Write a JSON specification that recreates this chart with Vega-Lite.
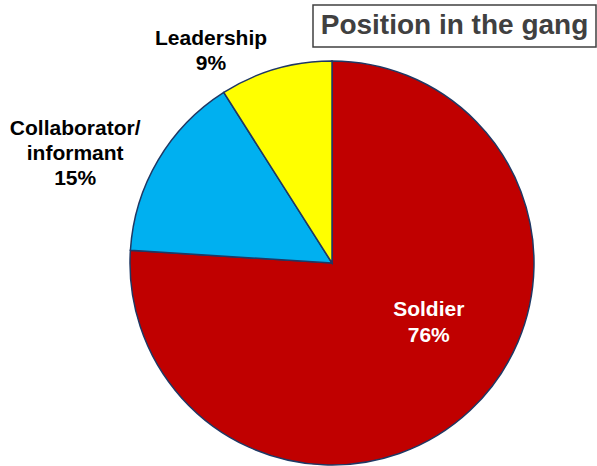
{
  "$schema": "https://vega.github.io/schema/vega-lite/v6.json",
  "padding": {"left": 9, "top": 4, "right": 0, "bottom": 0},
  "background": "white",
  "spacing": 14,
  "bounds": "flush",
  "config": {"font": "Liberation Sans", "view": {"stroke": null}},
  "datasets": {
    "slices": [
      {"category": "Soldier", "value": 76, "order": 1},
      {"category": "Collaborator/\ninformant", "value": 15, "order": 2},
      {"category": "Leadership", "value": 9, "order": 3}
    ],
    "heading": [{"text": "Position in the gang"}]
  },
  "vconcat": [
    {
      "width": 283,
      "height": 42,
      "view": {"stroke": "#404040", "strokeWidth": 1.5, "fill": "white"},
      "data": {"name": "heading"},
      "mark": {"type": "text", "font": "Liberation Sans", "fontWeight": "bold", "fontSize": 28, "color": "#404040", "baseline": "middle", "align": "center"},
      "encoding": {"text": {"field": "text", "type": "nominal"}}
    },
    {
      "width": 38,
      "height": 404,
      "data": {"name": "slices"},
      "transform": [
        {"stack": "value", "groupby": [], "sort": [{"field": "order", "order": "ascending"}], "as": ["v0", "v1"]},
        {"calculate": "datum.category + '\\n' + datum.value + '%'", "as": "label"}
      ],
      "layer": [
        {
          "mark": {"type": "arc", "outerRadius": 202, "stroke": "#1F3864", "strokeWidth": 1.5},
          "encoding": {
            "theta": {"field": "v0", "type": "quantitative", "scale": {"domain": [0, 100]}},
            "theta2": {"field": "v1"},
            "color": {"field": "category", "type": "nominal", "legend": null,
              "scale": {"domain": ["Soldier", "Collaborator/\ninformant", "Leadership"], "range": ["#C00000", "#00B0F0", "#FFFF00"]}}
          }
        },
        {
          "transform": [{"filter": "datum.order === 1"}],
          "mark": {"type": "text", "fontWeight": "bold", "fontSize": 21, "lineHeight": 26, "lineBreak": "\n", "color": "white", "align": "center", "baseline": "middle", "radius": 107.5, "thetaOffset": 2.022},
          "encoding": {
            "theta": {"field": "v0", "type": "quantitative", "scale": {"domain": [0, 100]}},
            "text": {"field": "label", "type": "nominal"}
          }
        },
        {
          "transform": [{"filter": "datum.order === 2"}],
          "mark": {"type": "text", "fontWeight": "bold", "fontSize": 21, "lineHeight": 25, "lineBreak": "\n", "color": "black", "align": "center", "baseline": "middle", "radius": 289.7, "thetaOffset": 0.418},
          "encoding": {
            "theta": {"field": "v0", "type": "quantitative", "scale": {"domain": [0, 100]}},
            "text": {"field": "label", "type": "nominal"}
          }
        },
        {
          "transform": [{"filter": "datum.order === 3"}],
          "mark": {"type": "text", "fontWeight": "bold", "fontSize": 21, "lineHeight": 25, "lineBreak": "\n", "color": "black", "align": "center", "baseline": "middle", "radius": 254.4, "thetaOffset": 0.070},
          "encoding": {
            "theta": {"field": "v0", "type": "quantitative", "scale": {"domain": [0, 100]}},
            "text": {"field": "label", "type": "nominal"}
          }
        }
      ]
    }
  ]
}
